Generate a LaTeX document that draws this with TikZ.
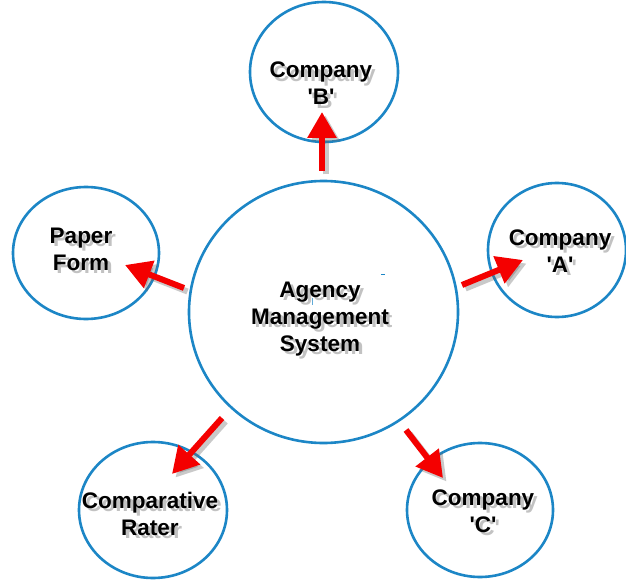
\documentclass[tikz,border=0pt]{standalone}
\usepackage{fontspec}
\setmainfont{Liberation Sans}
\usetikzlibrary{shapes.geometric,arrows.meta}
\definecolor{ringblue}{HTML}{1C86C6}
\definecolor{arrowred}{HTML}{F40000}

% label with a soft grey drop shadow: name, position, lines
\newcommand\ringlabel[3]{%
  \node[lbl, text=black!24, xshift=3.5pt, yshift=-3.5pt] (#1-shade) at (#2)
    {\begin{tabular}[t]{@{}c@{}}#3\end{tabular}};
  \node[lbl] (#1) at (#2) {\begin{tabular}[t]{@{}c@{}}#3\end{tabular}};}

% red arrow with a grey shadow between two named coordinates
\newcommand\flow[2]{%
  \draw[linkshade, transform canvas={xshift=3.5pt, yshift=-3.5pt}] (#1) -- (#2);
  \draw[link] (#1) -- (#2);}

\begin{document}
\begin{tikzpicture}[x=1pt,y=-1pt,
  ring/.style={draw=ringblue, line width=2.6pt, ellipse, inner sep=0pt},
  lbl/.style={anchor=base, inner sep=0pt,
    font=\fontsize{22.5pt}{27pt}\selectfont\bfseries},
  link/.style={draw=arrowred, line width=6pt,
    -{Triangle[length=26pt,width=28pt]}},
  linkshade/.style={draw=black!60, opacity=0.35, line width=6pt,
    -{Triangle[length=26pt,width=28pt]}},
]
\useasboundingbox (0,0) rectangle (626,580);
\fill[white] (0,0) rectangle (626,580);

% circles
\node[ring, minimum width=269pt, minimum height=262pt] (ams) at (323.5,312) {};
\node[ring, minimum width=148pt, minimum height=140pt] (cb) at (324,72) {};
\node[ring, minimum width=146pt, minimum height=132pt] (pf) at (86,253) {};
\node[ring, minimum width=138pt, minimum height=134pt] (ca) at (557,250) {};
\node[ring, minimum width=146pt, minimum height=134pt] (cc) at (480,510) {};
\node[ring, minimum width=148pt, minimum height=136pt] (cr) at (153,510) {};

% labels (first-line baselines)
\ringlabel{tams}{320,297}{Agency\\Management\\System}
\ringlabel{tcb}{321,78}{Company\\\textquotesingle B\textquotesingle}
\ringlabel{tpf}{81,243}{Paper\\Form}
\ringlabel{tca}{560,245}{Company\\\textquotesingle A\textquotesingle}
\ringlabel{tcc}{483,505}{Company\\\textquotesingle C\textquotesingle}
\ringlabel{tcr}{150,508}{Comparative\\Rater}

% arrow end points
\coordinate (b0) at (322,171);  \coordinate (b1) at (322,112);
\coordinate (p0) at (184,288);  \coordinate (p1) at (125,265);
\coordinate (a0) at (462,285);  \coordinate (a1) at (523,260);
\coordinate (c0) at (406,430);  \coordinate (c1) at (443,478);
\coordinate (r0) at (222,418);  \coordinate (r1) at (172,474);

\flow{b0}{b1}
\flow{p0}{p1}
\flow{a0}{a1}
\flow{c0}{c1}
\flow{r0}{r1}

% small stray strokes inside the main circle
\draw[ringblue, line width=1pt] (381,274) -- (385,274);
\draw[ringblue!70, line width=0.8pt] (312,298) -- (312,305);
\end{tikzpicture}
\end{document}
